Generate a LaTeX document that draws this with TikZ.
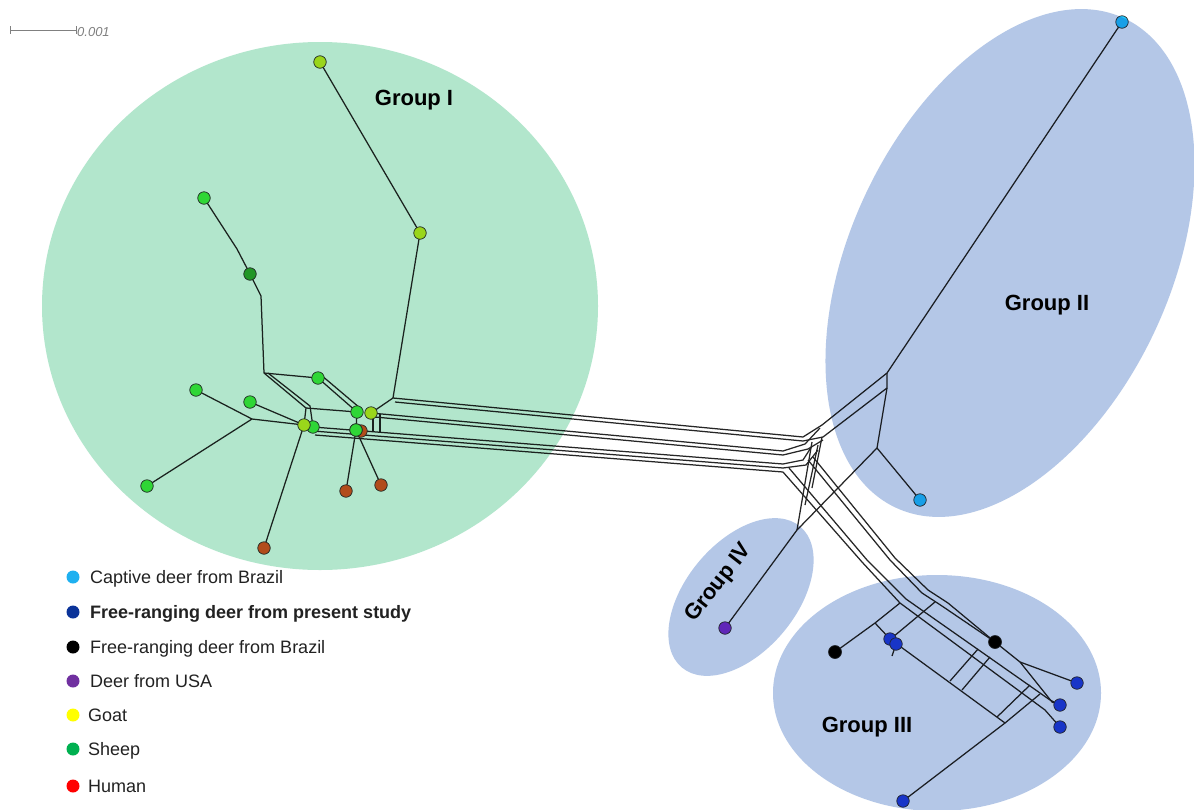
\documentclass[tikz,border=0pt]{standalone}
\usepackage{fontspec}
\setmainfont{Liberation Sans}
\definecolor{netc}{HTML}{262626}
\definecolor{nodeb}{HTML}{2E2E2E}
\definecolor{greenfill}{HTML}{B2E6CC}
\definecolor{bluefill}{HTML}{B4C7E7}
\definecolor{sheepc}{HTML}{44EE44}
\definecolor{goatc}{HTML}{DDEE22}
\definecolor{humanc}{HTML}{FF5522}
\definecolor{cyanc}{HTML}{22CCFF}
\definecolor{deerc}{HTML}{2244DD}
\definecolor{purplec}{HTML}{8833CC}
\definecolor{lcyan}{HTML}{1EB0F0}
\definecolor{lblue}{HTML}{0B3399}
\definecolor{lpurple}{HTML}{7030A0}
\definecolor{lyellow}{HTML}{FFFF00}
\definecolor{lgreen}{HTML}{00B050}
\definecolor{lred}{HTML}{FF0000}
\definecolor{legtext}{HTML}{222222}
\tikzset{
  net/.style={draw=netc, line width=1.25pt, line join=round},
  leaf/.style={circle, inner sep=0pt, minimum size=12.5pt, draw=nodeb, line width=0.7pt},
  sheep/.style={leaf, fill=sheepc},
  goat/.style={leaf, fill=goatc},
  human/.style={leaf, fill=humanc},
  capt/.style={leaf, fill=cyanc},
  deer/.style={leaf, fill=deerc},
  blk/.style={leaf, fill=black, minimum size=13pt},
  usa/.style={leaf, fill=purplec},
  legdot/.style={circle, inner sep=0pt, minimum size=13pt},
  legtxt/.style={anchor=base west, inner sep=0pt, text=legtext, font=\fontsize{18}{20}\selectfont},
  grp/.style={inner sep=0pt, font=\fontsize{22}{26}\selectfont\bfseries},
  grpfill/.style={blend mode=multiply}
}
\begin{document}
\begin{tikzpicture}[x=1pt,y=-1pt]
\useasboundingbox (0,0) rectangle (1194,809);
\fill[white] (0,0) rectangle (1194,809);

% ---------- coordinates (leaves) ----------
\coordinate (g1) at (320,62);
\coordinate (g2) at (420,233);
\coordinate (s1) at (204,198);
\coordinate (s2) at (250,274);
\coordinate (s3) at (318,378);
\coordinate (s4) at (196,390);
\coordinate (s5) at (250,402);
\coordinate (s6) at (357,412);
\coordinate (g3) at (371,413);
\coordinate (g4) at (304,425);
\coordinate (s7) at (313,427);
\coordinate (h0) at (361,431);
\coordinate (s8) at (356,430);
\coordinate (s9) at (147,486);
\coordinate (h1) at (346,491);
\coordinate (h2) at (381,485);
\coordinate (h3) at (264,548);
\coordinate (c1) at (1122,22);
\coordinate (c2) at (920,500);
\coordinate (p1) at (725,628);
\coordinate (k1) at (835,652);
\coordinate (k2) at (995,642);
\coordinate (d1) at (890,639);
\coordinate (d2) at (896,644);
\coordinate (d3) at (1077,683);
\coordinate (d4) at (1060,705);
\coordinate (d5) at (1060,727);
\coordinate (d6) at (903,801);
% junctions
\coordinate (j1) at (393,398);
\coordinate (j3) at (264,373);
\coordinate (j4) at (306,408);
\coordinate (j5) at (252,419);
\coordinate (A1) at (803,437);
\coordinate (A2) at (803,441);
\coordinate (B1) at (783,451);
\coordinate (B2) at (783,455);
\coordinate (C1) at (783,464);
\coordinate (C2) at (783,468);
\coordinate (C3) at (783,472);
\coordinate (T1) at (887,373);
\coordinate (T2) at (887,388);
\coordinate (T3) at (877,448);
\coordinate (R1a) at (875,623);
\coordinate (R1b) at (900,603);
\coordinate (Q3) at (906,599);
\coordinate (Q4) at (922,593);
\coordinate (Q5) at (928,590);

% ---------- network: group I ----------
\draw[net] (g1) -- (g2) -- (j1);
\draw[net] (j1) -- (g3);
\draw[net] (s1) -- (237,249) -- (s2) -- (261,296) -- (j3);
\draw[net] (j3) -- (s3);
\draw[net] (j3) -- (j4) -- (g4);
\draw[net] (268,373) -- (310,406) -- (s7);
\draw[net] (j4) -- (s6);
\draw[net] (s3) -- (s6);
\draw[net] (321,375) -- (360,408);
\draw[net] (s4) -- (j5) -- (g4);
\draw[net] (j5) -- (s9);
\draw[net] (s5) -- (g4);
\draw[net] (g4) -- (h3);
\draw[net] (s6) -- (s8);
\draw[net] (s8) -- (h1);
\draw[net] (s8) -- (h2);
\draw[net] (373,413) -- (373,432);
\draw[net] (380,414) -- (380,433);
% long bundles
\draw[net] (j1) -- (A1);
\draw[net] (395,402) -- (A2);
\draw[net] (g3) -- (B1);
\draw[net] (375,417) -- (B2);
\draw[net] (s7) -- (C1);
\draw[net] (313,431) -- (C2);
\draw[net] (315,435) -- (C3);
% hub
\draw[net] (A1) -- (822,425) -- (T1) -- (c1);
\draw[net] (A2) -- (823,437) -- (T2);
\draw[net] (T1) -- (T2) -- (T3) -- (c2);
\draw[net] (T3) -- (797,530) -- (p1);
\draw[net] (B1) -- (805,444) -- (820,428);
\draw[net] (B2) -- (808,449) -- (823,440);
\draw[net] (C1) -- (803,460) -- (812,446);
\draw[net] (C2) -- (806,465) -- (818,450);
\draw[net] (812,442) -- (797,530);
\draw[net] (818,445) -- (805,505);
\draw[net] (822,437) -- (812,488);
\draw[net] (C3) -- (862,562) -- (R1b);
\draw[net] (789,468) -- (867,560) -- (Q3);
\draw[net] (808,460) -- (890,560) -- (Q4);
\draw[net] (813,457) -- (895,558) -- (Q5);
% group III
\draw[net] (R1a) -- (R1b);
\draw[net] (k1) -- (R1a);
\draw[net] (R1a) -- (d1) -- (1005,723) -- (d6);
\draw[net] (R1b) -- (1045,710) -- (d5);
\draw[net] (Q3) -- (1050,700) -- (d4);
\draw[net] (Q4) -- (942,606) -- (k2) -- (1020,662) -- (d3);
\draw[net] (Q5) -- (948,603) -- (k2);
\draw[net] (1020,662) -- (1052,702) -- (d4);
\draw[net] (893,637) -- (935,602);
\draw[net] (950,681) -- (978,649);
\draw[net] (962,690) -- (990,657);
\draw[net] (997,717) -- (1030,685);
\draw[net] (1005,723) -- (1040,694);
\draw[net] (d2) -- (892,656);

% ---------- leaves ----------
\node[human] (nh0) at (h0) {};
\foreach \n in {s1,s3,s4,s5,s6,s7,s8,s9} \node[sheep] (n\n) at (\n) {};
\node[leaf, fill=sheepc!70!black] (ns2) at (s2) {};
\foreach \n in {g1,g2,g3,g4} \node[goat] (n\n) at (\n) {};
\foreach \n in {h1,h2,h3} \node[human] (n\n) at (\n) {};
\node[capt] (nc1) at (c1) {};
\node[capt] (nc2) at (c2) {};
\node[usa] (np1) at (p1) {};
\node[blk] (nk1) at (k1) {};
\node[blk] (nk2) at (k2) {};
\foreach \n in {d1,d2,d3,d4,d5,d6} \node[deer] (n\n) at (\n) {};
\node[sheep] (ns8b) at (s8) {};

% ---------- group shading ----------
\begin{scope}[grpfill]
\fill[greenfill] (320,306) ellipse [x radius=278, y radius=264];
\fill[bluefill, rotate around={-25:(1010,263)}] (1010,263) ellipse [x radius=160, y radius=270];
\fill[bluefill, rotate around={-40:(741,597)}] (741,597) ellipse [x radius=55, y radius=92];
\fill[bluefill] (937,693) ellipse [x radius=164, y radius=118];
\end{scope}

% ---------- group labels ----------
\node[grp] (lg1) at (414,100) {Group I};
\node[grp] (lg2) at (1047,305) {Group II};
\node[grp] (lg3) at (867,727) {Group III};
\node[grp, rotate=52] (lg4) at (719,583) {Group IV};

% ---------- scale bar ----------
\coordinate (sb1) at (10,30);
\coordinate (sb2) at (76,30);
\draw[gray, line width=1pt] (sb1) -- (sb2);
\draw[gray, line width=1pt] (10,26) -- (10,34);
\draw[gray, line width=1pt] (76,26) -- (76,34);
\node[anchor=west, inner sep=1pt, text=gray, font=\fontsize{13}{14}\selectfont\itshape] (sbt) at (76,32) {0.001};

% ---------- legend ----------
\node[legdot, fill=lcyan]   (ld1) at (73,577) {};
\node[legdot, fill=lblue]   (ld2) at (73,612) {};
\node[legdot, fill=black]   (ld3) at (73,647) {};
\node[legdot, fill=lpurple] (ld4) at (73,681) {};
\node[legdot, fill=lyellow] (ld5) at (73,715) {};
\node[legdot, fill=lgreen]  (ld6) at (73,749) {};
\node[legdot, fill=lred]    (ld7) at (73,786) {};
\node[legtxt] (lt1) at (90,583.5) {Captive deer from Brazil};
\node[legtxt, font=\fontsize{18}{20}\selectfont\bfseries] (lt2) at (90,618.5) {Free-ranging deer from present study};
\node[legtxt] (lt3) at (90,653.5) {Free-ranging deer from Brazil};
\node[legtxt] (lt4) at (90,687.5) {Deer from USA};
\node[legtxt] (lt5) at (88,721.5) {Goat};
\node[legtxt] (lt6) at (88,755.5) {Sheep};
\node[legtxt] (lt7) at (88,792.5) {Human};
\end{tikzpicture}
\end{document}
